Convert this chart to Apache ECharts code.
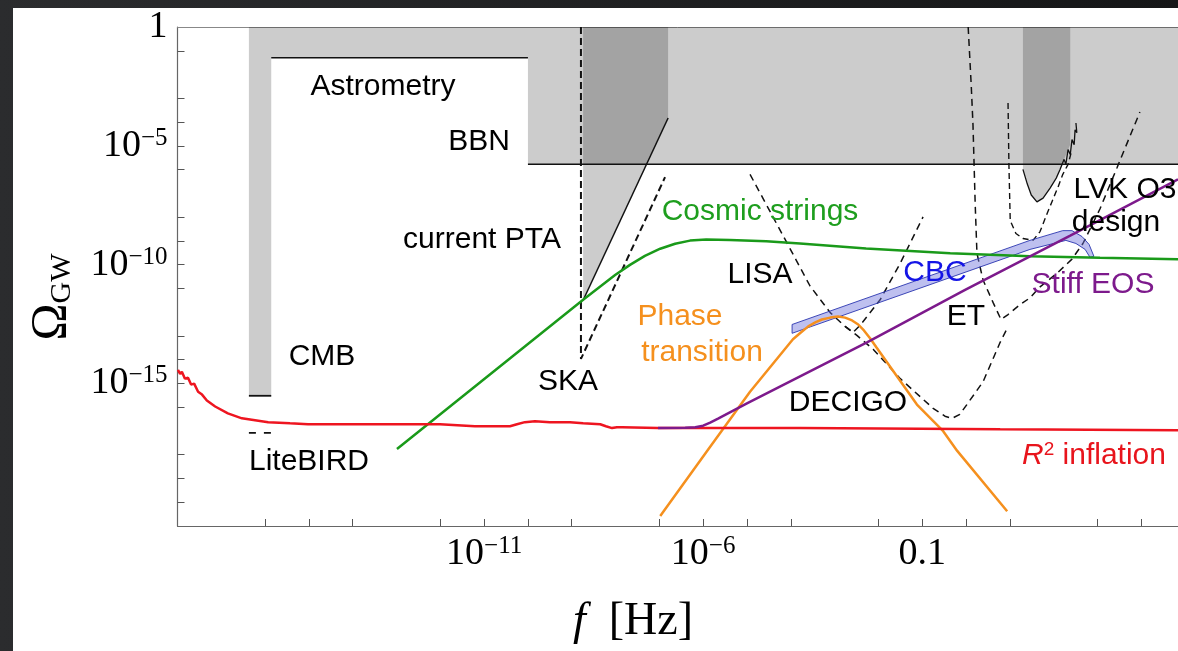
<!DOCTYPE html>
<html><head><meta charset="utf-8">
<script src="https://cdn.jsdelivr.net/npm/echarts@6/dist/echarts.min.js"></script>
<style>
html,body{margin:0;padding:0;width:1178px;height:651px;overflow:hidden;background:linear-gradient(90deg,#2b2c2e,#151617);}
#c{position:absolute;left:13px;top:8px;width:1165px;height:643px;background:#fff;}
</style></head><body><div id="c"></div>
<script>
// All values are [log10 f(Hz), log10 Omega_GW]
const xTickLabels = [-11, -6, -1];
const xTicks = [-16,-15,-14,-12,-11,-10,-9,-7,-6,-5,-4,-2,-1,0,1,3,4];
const yTickLabels = [0, -5, -10, -15];
const yTicks = [-20,-19,-18,-16,-15,-14,-13,-11,-10,-9,-8,-6,-5,-4,-3,-1];

const excludedRegion = [[-16.37,0],[4.84,0],[4.84,-5.78],[-10.0,-5.78],[-10.0,-1.29],[-15.86,-1.29],[-15.86,-15.52],[-16.37,-15.52]];
const ptaRegion = [[-8.74,0],[-6.80,0],[-6.80,-3.83],[-8.74,-11.5]];
const lvkRegion = [[1.30,0],[2.38,0],[2.38,-4.95],[2.24,-5.57],[2.15,-5.99],[1.92,-6.78],[1.76,-7.20],[1.62,-7.36],[1.49,-7.07],[1.40,-6.61],[1.30,-5.99]];
const cbcBand = [[-3.97,-12.52],[1.46,-8.98],[2.21,-8.57],[2.42,-8.57],[2.65,-8.82],[2.81,-9.15],[2.92,-9.65],
                 [2.83,-9.69],[2.72,-9.36],[2.51,-9.11],[2.28,-8.98],[1.46,-9.36],[-3.97,-12.89]];

const astrometryLine = [[-15.86,-1.29],[-10.0,-1.29]];
const bbnLine = [[-10.0,-5.78],[4.84,-5.78]];
const cmbLine = [[-16.37,-15.52],[-15.86,-15.52]];
const liteBIRD = [[-16.37,-17.08],[-15.86,-17.08]];
const ptaLine = [[-8.74,-11.5],[-6.80,-3.83]];
const ska = [[-8.79,0],[-8.79,-13.97],[-6.87,-6.32]];
const lisa = [[-4.93,-6.20],[-4.08,-9.11],[-3.56,-10.90],[-3.10,-12.02],[-2.76,-12.60],[-2.58,-12.85],[-2.42,-12.56],[-1.96,-11.48],[-1.50,-9.94],[-0.98,-7.99]];
const decigo = [[-2.76,-12.60],[-2.49,-12.98],[-2.12,-13.56],[-1.50,-14.80],[-0.75,-16.05],[-0.48,-16.38],[-0.32,-16.47],[-0.14,-16.30],[0.02,-15.89],[0.39,-14.93],[0.78,-13.27],[0.94,-12.68]];
const et = [[0.05,0],[0.12,-2.46],[0.16,-4.12],[0.21,-7.44],[0.25,-9.52],[0.39,-10.65],[0.62,-11.60],[0.80,-12.31],[0.96,-12.10],[1.23,-11.69],[1.46,-11.40],[1.69,-10.94],[2.08,-10.36],[2.42,-9.77],[2.67,-9.11],[3.06,-7.65],[3.45,-5.91],[3.97,-3.58]];
const lvkDesign = [[0.96,-3.20],[0.98,-5.78],[1.01,-8.15],[1.14,-8.69],[1.30,-8.90],[1.53,-8.98],[1.69,-8.61],[1.85,-7.86],[1.97,-7.32],[2.10,-6.74],[2.21,-6.20],[2.33,-5.78],[2.42,-5.16]];
const lvkO3 = [[1.30,-5.99],[1.40,-6.61],[1.49,-7.07],[1.62,-7.36],[1.76,-7.20],[1.92,-6.78],[2.06,-6.36],[2.15,-5.99],[2.24,-5.57],[2.28,-5.78],[2.33,-5.16],[2.38,-5.37],[2.42,-4.74],[2.47,-4.95],[2.49,-4.33],[2.53,-4.45],[2.51,-4.04]];
const cosmicStrings = [[-12.99,-17.76],[-8.74,-11.48],[-8.01,-10.44],[-7.67,-10.01],[-7.33,-9.63],[-6.98,-9.33],[-6.64,-9.12],[-6.30,-8.99],[-5.93,-8.94],[-5.39,-8.96],[-4.56,-9.02],[-3.79,-9.11],[-2.28,-9.32],[-0.36,-9.52],[1.46,-9.65],[3.06,-9.71],[4.84,-9.77]];
const phaseTransition = [[-6.98,-20.58],[-5.91,-17.84],[-4.93,-15.35],[-3.95,-13.14],[-3.79,-12.89],[-3.60,-12.60],[-3.44,-12.43],[-3.29,-12.31],[-3.10,-12.23],[-2.92,-12.18],[-2.76,-12.23],[-2.60,-12.35],[-2.46,-12.52],[-2.33,-12.77],[-2.19,-13.10],[-2.05,-13.47],[-1.12,-15.89],[-0.52,-17.01],[-0.20,-17.84],[0.94,-20.38]];
const stiffEOS = [[-7.03,-16.88],[-6.41,-16.87],[-6.18,-16.84],[-6.00,-16.78],[-5.84,-16.65],[-5.66,-16.48],[-5.00,-15.84],[-2.26,-13.27],[-0.02,-11.06],[2.38,-8.78],[4.84,-6.41]];
const r2Inflation = [[-17.99,-14.43],[-17.94,-14.60],[-17.90,-14.51],[-17.83,-14.80],[-17.76,-14.76],[-17.69,-15.05],[-17.62,-15.01],[-17.53,-15.35],[-17.44,-15.47],[-17.33,-15.72],[-17.14,-15.97],[-16.85,-16.26],[-16.53,-16.47],[-16.23,-16.55],[-15.93,-16.63],[-15.43,-16.68],[-15.02,-16.72],[-14.06,-16.72],[-12.74,-16.72],[-12.01,-16.72],[-11.21,-16.80],[-10.64,-16.80],[-10.41,-16.80],[-10.25,-16.72],[-10.07,-16.63],[-9.84,-16.59],[-9.50,-16.63],[-9.04,-16.63],[-8.74,-16.68],[-8.35,-16.72],[-8.22,-16.80],[-8.08,-16.88],[-7.97,-16.84],[-7.85,-16.84],[-7.03,-16.88],[-3.79,-16.88],[0.78,-16.93],[4.84,-16.97]];

const OX = 13, OY = 8; // container offset in page
const annotations = [
  ['Astrometry', 383, 86.5, '#000'],
  ['BBN', 479, 141.5, '#000'],
  ['current PTA', 482, 239.5, '#000'],
  ['CMB', 322, 356.5, '#000'],
  ['LiteBIRD', 309, 461.5, '#000'],
  ['SKA', 568, 381.5, '#000'],
  ['Cosmic strings', 760, 211.5, '#1e9e1e'],
  ['LISA', 760, 274.5, '#000'],
  ['Phase', 680, 316.5, '#f5901e'],
  ['transition', 702, 352.5, '#f5901e'],
  ['CBC', 935, 272.5, '#1414e6'],
  ['DECIGO', 848, 402.5, '#000'],
  ['ET', 966, 316.5, '#000'],
  ['Stiff EOS', 1093, 284.5, '#7d1a8c'],
  ['LVK O3', 1125, 189.5, '#000'],
  ['design', 1116, 222.5, '#000']
];

const chart = echarts.init(document.getElementById('c'), null, {renderer:'canvas'});

function poly(points, fill, stroke, z){
  return {type:'custom', coordinateSystem:'cartesian2d', data: points, z: z, silent:true, animation:false,
    renderItem: function(params, api){
      if (params.dataIndex !== 0) return null;
      const pts = points.map(p => api.coord(p));
      return {type:'polygon', shape:{points: pts}, style:{fill: fill, stroke: stroke || null, lineWidth: stroke ? 0.9 : 0}};
    }};
}
function line(data, color, width, type, z){
  return {type:'line', data: data, symbol:'none', showSymbol:false, silent:true, animation:false, z: z || 5,
    lineStyle:{color: color, width: width, type: type || 'solid'}};
}
const serif = '"Liberation Serif", "DejaVu Serif", serif';
const sans = '"Liberation Sans", Arial, sans-serif';

const axisRich = {
  b:{fontFamily: serif, fontSize: 38, color:'#000', lineHeight: 40},
  s:{fontFamily: serif, fontSize: 25, color:'#000', verticalAlign:'top', lineHeight: 26}
};
function expLabel(v){
  if (Math.abs(v) < 1e-9) return '{b|1}';
  if (Math.abs(v + 1) < 1e-9) return '{b|0.1}';
  return '{b|10}{s|\u2212' + Math.round(-v) + '}';
}

const graphics = annotations.map(a => ({type:'text', x: a[1]-OX, y: a[2]-OY, silent:true, z:50,
  style:{text:a[0], fill:a[3], font:'30px ' + sans, align:'center', verticalAlign:'middle'}}));
graphics.push({type:'text', x:1022-OX, y:455.5-OY, silent:true, z:50,
  style:{text:'{r|R}{s|2}{t| inflation}', align:'left', verticalAlign:'middle',
    rich:{r:{fill:'#e8141c', fontFamily:sans, fontSize:30, fontStyle:'italic'},
          s:{fill:'#e8141c', fontFamily:sans, fontSize:19, verticalAlign:'top'},
          t:{fill:'#e8141c', fontFamily:sans, fontSize:30}}}});
graphics.push({type:'text', x:52-OX, y:297-OY, rotation: Math.PI/2, silent:true, z:50,
  style:{text:'{o|\u03A9}{g|GW}', align:'center', verticalAlign:'middle',
    rich:{o:{fill:'#000', fontFamily:serif, fontSize:50}, g:{fill:'#000', fontFamily:serif, fontSize:30, verticalAlign:'bottom'}}}});
graphics.push({type:'text', x:633-OX, y:622-OY, silent:true, z:50,
  style:{text:'{i|f}{n|  [Hz]}', align:'center', verticalAlign:'middle',
    rich:{i:{fill:'#000', fontFamily:serif, fontSize:46, fontStyle:'italic'}, n:{fill:'#000', fontFamily:serif, fontSize:46}}}});

const option = {
  animation:false,
  backgroundColor:'#fff',
  grid:{left:164.5, top:13, right:0, bottom:125, show:false},
  xAxis:[{
    type:'value', min:-18, max:4.84, position:'bottom',
    axisLine:{show:true, onZero:false, lineStyle:{color:'#666', width:1.2}},
    axisTick:{show:true, inside:true, length:7, customValues:xTicks, lineStyle:{color:'#555', width:1}},
    axisLabel:{show:true, customValues:xTickLabels, formatter: expLabel, rich: axisRich, margin:8, hideOverlap:false},
    splitLine:{show:false}
  },{
    type:'value', min:-18, max:4.84, position:'top',
    axisLine:{show:true, onZero:false, lineStyle:{color:'#888', width:1}},
    axisTick:{show:false}, axisLabel:{show:false}, splitLine:{show:false}
  }],
  yAxis:{
    type:'value', min:-21, max:0,
    axisLine:{show:true, onZero:false, lineStyle:{color:'#666', width:1.2}},
    axisTick:{show:true, inside:true, length:7, customValues:yTicks, lineStyle:{color:'#555', width:1}},
    axisLabel:{show:true, customValues:yTickLabels, formatter: expLabel, rich: axisRich, margin:10, align:'right'},
    splitLine:{show:false}
  },
  graphic: graphics,
  series:[
    poly(excludedRegion, 'rgba(0,0,0,0.2)', null, 1),
    poly(ptaRegion, 'rgba(0,0,0,0.2)', null, 1),
    poly(lvkRegion, 'rgba(0,0,0,0.2)', null, 1),
    line(astrometryLine, '#111', 1.5),
    line(bbnLine, '#111', 1.5),
    line(cmbLine, '#111', 1.8),
    line(liteBIRD, '#111', 1.8, [7,8]),
    line(ptaLine, '#111', 1.5),
    line(ska, '#111', 2, [7,4]),
    line(lisa, '#111', 1.5, [7,5]),
    line(decigo, '#111', 1.5, [7,5]),
    line(et, '#111', 1.5, [7,5]),
    line(lvkDesign, '#111', 1.4, [6,4]),
    line(lvkO3, '#111', 1.3),
    poly(cbcBand, 'rgba(110,115,220,0.45)', '#2a35b0', 6),
    line(cosmicStrings, '#1a9a1a', 2.5, 'solid', 7),
    line(phaseTransition, '#f5901e', 2.5, 'solid', 7),
    line(r2Inflation, '#ee1520', 2.5, 'solid', 7),
    line(stiffEOS, '#7d1a8c', 2.5, 'solid', 8)
  ]
};
chart.setOption(option);
</script></body></html>
